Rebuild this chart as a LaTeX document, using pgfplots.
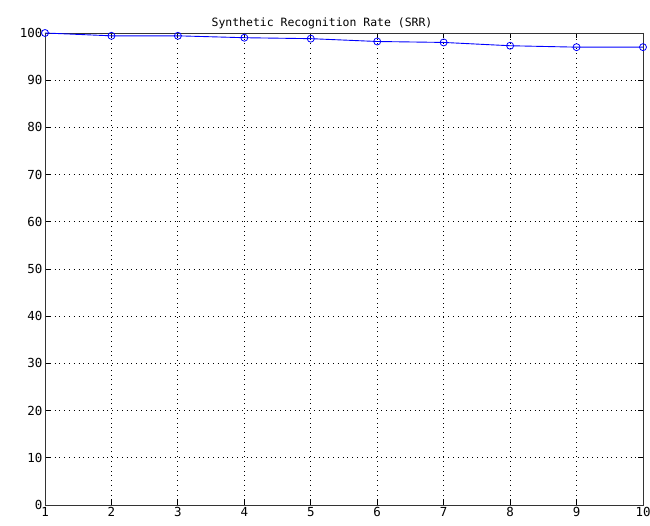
\documentclass[border=0pt]{standalone}
\usepackage{pgfplots}
\pgfplotsset{compat=1.18}
\usepackage{fontspec}
\setmainfont{DejaVu Sans Mono}
\begin{document}
\begin{tikzpicture}
\useasboundingbox (-45bp,-21bp) rectangle (605bp,505bp);
\begin{axis}[
  at={(0,0)}, anchor=south west,
  scale only axis, width=598bp, height=472bp,
  xmin=1, xmax=10, ymin=0, ymax=100,
  xtick={1,...,10}, ytick={0,10,...,100},
  grid=major,
  major grid style={black, line width=0.8pt, dash pattern=on 0.8bp off 4bp},
  tick align=inside, tick pos=both,
  major tick length=5bp,
  axis line style={black!80, line width=0.9pt},
  tick style={black, line width=0.8pt},
  ticklabel style={font=\fontsize{12.5}{13}\selectfont},
  xticklabel style={yshift=1bp},
  yticklabel style={xshift=1bp},
  /pgf/number format/assume math mode=true,
  title={Synthetic Recognition Rate (SRR)},
  title style={font=\fontsize{11.5}{13}\selectfont, yshift=-5bp, xshift=-22bp},
  clip=false,
]
\addplot[blue, line width=0.9pt, mark=o, mark size=3.5bp, mark options={line width=0.8pt}]
coordinates {(1,100) (2,99.4) (3,99.4) (4,99.0) (5,98.8) (6,98.2) (7,98.0) (8,97.3) (9,97.0) (10,97.0)};
\end{axis}
\end{tikzpicture}
\end{document}
